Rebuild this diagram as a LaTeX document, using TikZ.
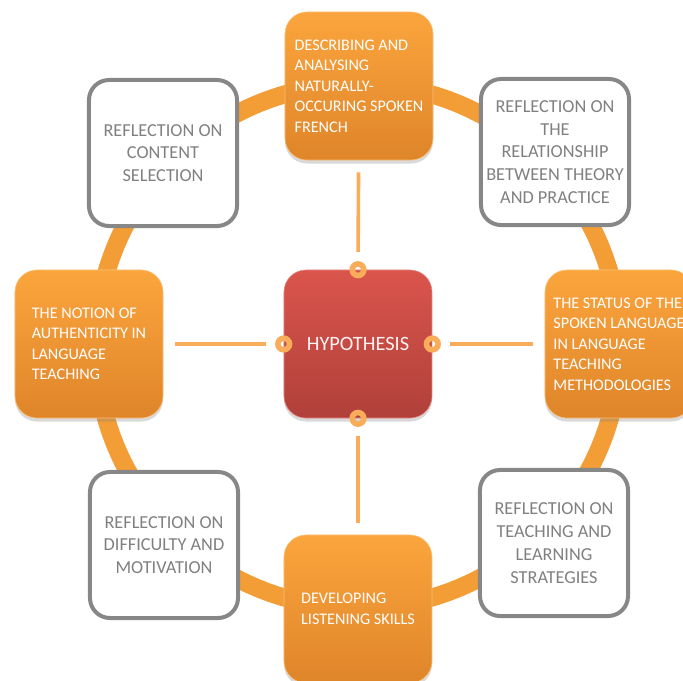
\documentclass[tikz,border=0pt]{standalone}
\usepackage{fontspec}
\setmainfont{Carlito}
\usetikzlibrary{shadows}

\definecolor{orangetop}{HTML}{FBA53D}
\definecolor{orangebot}{HTML}{DF852A}
\definecolor{ringorange}{HTML}{F39D36}
\definecolor{linkorange}{HTML}{F9AC5A}
\definecolor{redtop}{HTML}{DA554C}
\definecolor{redbot}{HTML}{B0403A}
\definecolor{greyline}{HTML}{878787}
\definecolor{greytext}{HTML}{808080}

\tikzset{
  orangebox/.style={rounded corners=0.55cm, minimum width=3.7cm, minimum height=3.7cm,
    top color=orangetop, bottom color=orangebot, draw=orangetop!70!white, line width=0.4pt,
    text=white, align=left, font=\fontsize{11.5}{14.6}\selectfont,
    drop shadow={opacity=0.3, shadow xshift=0pt, shadow yshift=-2.5pt}},
  whitebox/.style={rounded corners=0.5cm, minimum width=3.7cm, minimum height=3.65cm,
    fill=white, draw=greyline, line width=0.1cm,
    text=greytext, align=center, font=\fontsize{13}{16.2}\selectfont},
  hypbox/.style={rounded corners=0.55cm, minimum width=3.7cm, minimum height=3.7cm,
    top color=redtop, bottom color=redbot, draw=redtop!70!white, line width=0.4pt,
    text=white!95!red, font=\fontsize{14.5}{17}\selectfont,
    drop shadow={opacity=0.3, shadow xshift=0pt, shadow yshift=-2.5pt}},
  dot/.style={circle, draw=linkorange, line width=0.14cm, minimum size=0.29cm,
    inner sep=0pt, outer sep=0pt},
  link/.style={linkorange, line width=0.09cm, shorten <=0.3cm, shorten >=0.3cm},
}

\begin{document}
\begin{tikzpicture}[x=0.025cm, y=-0.025cm]

% 画布大小
    \useasboundingbox (0,0) rectangle (683,680);
    \clip (0,0) rectangle (683,680);

    % 画圆环
    \coordinate (mid) at (358,346);
    \draw[ringorange, line width=0.45cm] (mid) circle (6.55cm);

    % 外圈的方块
    \node[orangebox] (desc) at (359,86) {DESCRIBING AND\\ANALYSING\\NATURALLY-\\OCCURING SPOKEN\\FRENCH};
    \node[whitebox] (theory) at (555,152) {REFLECTION ON\\THE\\RELATIONSHIP\\BETWEEN THEORY\\AND PRACTICE};
    \node[orangebox] (status) at (619,344) {THE STATUS OF THE\\SPOKEN LANGUAGE\\IN LANGUAGE\\TEACHING\\METHODOLOGIES};
    \node[whitebox] (strategies) at (554,543) {REFLECTION ON\\TEACHING AND\\LEARNING\\STRATEGIES};
    \node[orangebox] (listening) at (358,609) {DEVELOPING\\LISTENING SKILLS};
    \node[whitebox] (motivation) at (164,545) {REFLECTION ON\\DIFFICULTY AND\\MOTIVATION};
    \node[orangebox] (authentic) at (89,344) {THE NOTION OF\\AUTHENTICITY IN\\LANGUAGE\\TEACHING};
    \node[whitebox] (content) at (163,153) {REFLECTION ON\\CONTENT\\SELECTION};

    % 中间的方块
    \node[hypbox] (hyp) at (358,344) {HYPOTHESIS};

    % 小圆点和连线
    \foreach \a/\b in {north/desc, east/status, south/listening, west/authentic} {
        \node[dot] (dot-\a) at (hyp.\a) {};
        \draw[link] (dot-\a) -- (\b);
    }

\end{tikzpicture}
\end{document}
